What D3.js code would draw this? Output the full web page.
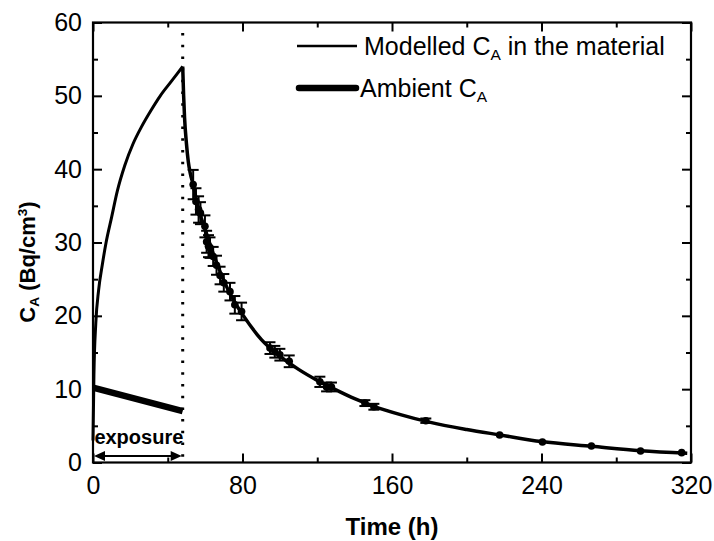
<!DOCTYPE html>
<html>
<head>
<meta charset="utf-8">
<script src="https://cdn.jsdelivr.net/npm/d3@7"></script>
<style>
  body { margin: 0; background: #fff; }
  svg { display: block; font-family: Arial, "Liberation Sans", sans-serif; }
</style>
</head>
<body>
<svg id="chart" width="714" height="541"></svg>
<script>
// modelled concentration in the material during exposure (0-48 h)
const riseT = [0, 0.5, 1.5, 3, 5, 7, 10, 13, 17, 21.5, 26, 31, 36, 42, 48];
const riseC = [3, 12, 19, 23.5, 27, 30, 33.5, 37, 40.5, 43.5, 45.8, 48, 50, 52, 54];

// modelled concentration after exposure
const decayT = [48, 48.5, 49, 50, 51, 52, 53.6, 56, 60, 65, 70, 75, 80, 90, 100, 110, 120, 130, 140, 150, 165, 180, 200, 218, 240, 267, 293, 318];
const decayC = [54, 50, 47, 43.5, 41, 39.5, 37.9, 35, 31.8, 28, 24.8, 22.2, 20.2, 16.8, 14.5, 12.7, 11.2, 9.9, 8.7, 7.7, 6.5, 5.5, 4.5, 3.75, 2.85, 2.2, 1.6, 1.25];

// ambient concentration
const ambT = [0, 48];
const ambC = [10.2, 7.0];

// measured points with error bars
const measT = [53.6, 55.1, 56.5, 57.5, 59.9, 60.8, 61.8, 62.6, 64.3, 66.1, 68, 70, 73.3, 75.9, 79.5, 94.7, 97.3, 100, 105, 121.4, 125, 127.6, 145.5, 150.3, 178.1, 217.6, 240.5, 266.7, 293, 315];
const measC = [37.9, 35.6, 34.5, 34.0, 32.2, 30.1, 29.5, 29.3, 28.1, 26.9, 25.5, 24.5, 23.3, 21.5, 20.6, 15.6, 15.1, 14.7, 13.8, 11.0, 10.3, 10.3, 8.1, 7.6, 5.7, 3.75, 2.8, 2.25, 1.57, 1.34];
const measE = [2.0, 1.8, 1.8, 1.5, 1.5, 1.5, 1.5, 1.4, 1.3, 1.3, 1.2, 1.2, 1.2, 1.2, 1.2, 0.8, 0.8, 0.8, 0.8, 0.7, 0.6, 0.6, 0.4, 0.4, 0.3, 0.2, 0.2, 0.15, 0.15, 0.1];

const xMajor = [0, 80, 160, 240, 320];
const xMinor = [40, 120, 200, 280];
const yMajor = [0, 10, 20, 30, 40, 50, 60];
const yMinor = [5, 15, 25, 35, 45, 55];
const exposureEnd = 48;

const svg = d3.select("#chart");
const pLeft = 93, pRight = 691, pTop = 22.5, pBottom = 462.5;

const x = d3.scaleLinear().domain([0, 320]).range([pLeft, pRight]);
const y = d3.scaleLinear().domain([0, 60]).range([pBottom, pTop]);

// axes (ticks pointing inward)
function tickAxis(gen, vals, size, pad, labels){
    return gen.tickValues(vals).tickSizeInner(-size).tickSizeOuter(0).tickPadding(pad)
        .tickFormat(labels ? d3.format("d") : "");
}

const gx = svg.append("g").attr("transform", `translate(0,${pBottom})`);
gx.call(tickAxis(d3.axisBottom(x), xMajor, 9, 14, true));
gx.append("g").call(tickAxis(d3.axisBottom(x), xMinor, 5, 0, false));

const gy = svg.append("g").attr("transform", `translate(${pLeft},0)`);
gy.call(tickAxis(d3.axisLeft(y), yMajor, 9, 11, true));
gy.append("g").call(tickAxis(d3.axisLeft(y), yMinor, 5, 0, false));

// mirror ticks on top and right
const gt = svg.append("g").attr("transform", `translate(0,${pTop})`);
gt.call(tickAxis(d3.axisTop(x), xMajor, 9, 0, false));
gt.append("g").call(tickAxis(d3.axisTop(x), xMinor, 5, 0, false));
const gr = svg.append("g").attr("transform", `translate(${pRight},0)`);
gr.call(tickAxis(d3.axisRight(y), yMajor, 9, 0, false));
gr.append("g").call(tickAxis(d3.axisRight(y), yMinor, 5, 0, false));

svg.selectAll(".domain").remove();
svg.selectAll(".tick line").attr("stroke", "#000").attr("stroke-width", 2);
svg.selectAll(".tick text").attr("font-size", 25).attr("fill", "#000")
    .attr("font-family", "Arial, 'Liberation Sans', sans-serif");

svg.append("rect")
    .attr("x", pLeft).attr("y", pTop)
    .attr("width", pRight - pLeft).attr("height", pBottom - pTop)
    .attr("fill", "none").attr("stroke", "#000").attr("stroke-width", 2.2);

// dotted line at end of exposure
svg.append("line")
    .attr("x1", x(exposureEnd)).attr("x2", x(exposureEnd))
    .attr("y1", 33).attr("y2", pBottom)
    .attr("stroke", "#000").attr("stroke-width", 3)
    .attr("stroke-dasharray", "2.5,9.2");

// curves
const line = d3.line().x(d => x(d[0])).y(d => y(d[1])).curve(d3.curveMonotoneX);

svg.append("path")
    .datum(ambT.map((t, i) => [t, ambC[i]]))
    .attr("d", line)
    .attr("fill", "none").attr("stroke", "#000").attr("stroke-width", 6.5);

svg.append("path")
    .datum(riseT.map((t, i) => [t, riseC[i]]))
    .attr("d", line)
    .attr("fill", "none").attr("stroke", "#000").attr("stroke-width", 3);

svg.append("path")
    .datum(decayT.map((t, i) => [t, decayC[i]]))
    .attr("d", line)
    .attr("fill", "none").attr("stroke", "#000").attr("stroke-width", 3.5);

// measured points with error bars
const meas = measT.map((t, i) => ({t: t, c: measC[i], e: measE[i]}));
const gm = svg.append("g").attr("stroke", "#000").attr("stroke-width", 2);
meas.forEach(d => {
    const cx = x(d.t);
    gm.append("line").attr("x1", cx).attr("x2", cx).attr("y1", y(d.c - d.e)).attr("y2", y(d.c + d.e));
    if (d.e > 0.25) {
        [d.c - d.e, d.c + d.e].forEach(v => {
            gm.append("line").attr("x1", cx - 5.5).attr("x2", cx + 5.5).attr("y1", y(v)).attr("y2", y(v));
        });
    }
    gm.append("circle").attr("cx", cx).attr("cy", y(d.c)).attr("r", 3.8).attr("fill", "#000").attr("stroke", "none");
});

// exposure annotation: double arrow
const ay = 456, ax0 = x(0) + 1, ax1 = x(exposureEnd) - 1;
svg.append("line")
    .attr("x1", ax0 + 6).attr("x2", ax1 - 6)
    .attr("y1", ay).attr("y2", ay)
    .attr("stroke", "#000").attr("stroke-width", 2.2);
svg.append("path")
    .attr("d", `M${ax0},${ay} l11,-5 l0,10 z M${ax1},${ay} l-11,-5 l0,10 z`)
    .attr("fill", "#000");
svg.append("text")
    .attr("x", (x(0) + x(exposureEnd)) / 2 + 1).attr("y", 444)
    .attr("text-anchor", "middle")
    .attr("font-size", 20).attr("font-weight", "bold")
    .text("exposure");

// legend
function subText(sel, parts){
    parts.forEach(p => {
        const ts = sel.append("tspan").text(p.t);
        if (p.sub) ts.attr("font-size", "0.62em").attr("baseline-shift", "-32%");
        if (p.sup) ts.attr("font-size", "0.62em").attr("baseline-shift", "60%");
    });
    return sel;
}

const legend = svg.append("g");
legend.append("line").attr("x1", 297).attr("x2", 357).attr("y1", 46).attr("y2", 46)
    .attr("stroke", "#000").attr("stroke-width", 2.5);
subText(legend.append("text").attr("x", 364).attr("y", 55).attr("font-size", 25),
    [{t: "Modelled C"}, {t: "A", sub: true}, {t: " in the material"}]);
legend.append("line").attr("x1", 299).attr("x2", 356).attr("y1", 88).attr("y2", 88)
    .attr("stroke", "#000").attr("stroke-width", 6.5).attr("stroke-linecap", "round");
subText(legend.append("text").attr("x", 360).attr("y", 97).attr("font-size", 25),
    [{t: "Ambient C"}, {t: "A", sub: true}]);

// axis titles
svg.append("text")
    .attr("x", (pLeft + pRight) / 2).attr("y", 535)
    .attr("text-anchor", "middle")
    .attr("font-size", 24).attr("font-weight", "bold")
    .text("Time (h)");

subText(svg.append("text")
    .attr("transform", "translate(35,262) rotate(-90)")
    .attr("text-anchor", "middle")
    .attr("font-size", 22).attr("font-weight", "bold"),
    [{t: "C"}, {t: "A", sub: true}, {t: " (Bq/cm"}, {t: "3", sup: true}, {t: ")"}]);
</script>
</body>
</html>
